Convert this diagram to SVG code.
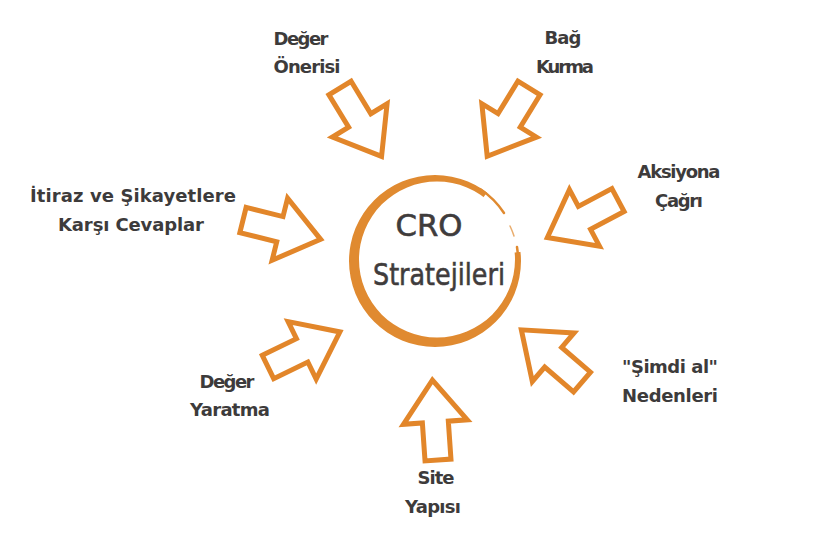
<svg xmlns="http://www.w3.org/2000/svg" width="821" height="553" viewBox="0 0 821 553">
  <style>
    .lbl { font-family: "DejaVu Sans", "Liberation Sans", sans-serif; font-weight: bold; font-size: 18px; fill: #3d3b3b; text-anchor: middle; }
    .ctr { font-family: "DejaVu Sans", "Liberation Sans", sans-serif; font-size: 30px; fill: #3f3c3c; stroke: #3f3c3c; stroke-width: 0.6; text-anchor: middle; }
    .arr { fill: #ffffff; stroke: #e2862a; stroke-width: 5; stroke-linejoin: miter; }
    .ring { fill: #e08a30; fill-rule: evenodd; }
    .thin { fill: none; stroke: #e08a30; stroke-linecap: round; }
  </style>
  <defs>
    <path id="arrow" d="M0,-13 L38,-13 L38,-32 L80,0 L38,32 L38,13 L0,13 Z"/>
    <clipPath id="gap">
      <polygon points="435,261 640,239 640,470 225,470 225,40 603,40"/>
    </clipPath>
  </defs>
  <rect width="821" height="553" fill="#ffffff"/>

  <g id="connectors">
    <use href="#arrow" class="arr" transform="translate(340,88) rotate(58.7)"/>
    <use href="#arrow" class="arr" transform="translate(529,88) rotate(121.5)"/>
    <use href="#arrow" class="arr" transform="translate(243,220) rotate(14)"/>
    <use href="#arrow" class="arr" transform="translate(618,200) rotate(152)"/>
    <use href="#arrow" class="arr" transform="translate(582,382) rotate(220.7)"/>
    <use href="#arrow" class="arr" transform="translate(438,460) rotate(-94)"/>
    <use href="#arrow" class="arr" transform="translate(268,367) rotate(-26)"/>
  </g>

  <g id="center">
    <path class="ring" clip-path="url(#gap)" d="M521,261 A86,86 0 1 0 349,261 A86,86 0 1 0 521,261 Z M515,259.5 A78,78 0 1 0 359,259.5 A78,78 0 1 0 515,259.5 Z"/>
    <path class="thin" stroke-width="2.5" d="M480,189 A83,83 0 0 1 504,213"/>
    <path class="thin" stroke-width="1.5" opacity="0.7" d="M510,226 A83,83 0 0 1 514,236"/>
    <path class="thin" stroke-width="2.5" d="M517,247 A83,83 0 0 1 518,262"/>
    <text class="ctr" x="429" y="236" textLength="67" lengthAdjust="spacingAndGlyphs">CRO</text>
    <text class="ctr" x="439" y="285" textLength="132" lengthAdjust="spacingAndGlyphs">Stratejileri</text>
  </g>

  <g id="deger-onerisi">
    <text class="lbl" x="301" y="45" textLength="55">Değer</text>
    <text class="lbl" x="307" y="73" textLength="67">Önerisi</text>
  </g>
  <g id="bag-kurma">
    <text class="lbl" x="563" y="44" textLength="37">Bağ</text>
    <text class="lbl" x="565" y="73" textLength="58">Kurma</text>
  </g>
  <g id="itiraz">
    <text class="lbl" x="133" y="202" textLength="206">İtiraz ve Şikayetlere</text>
    <text class="lbl" x="131" y="231" textLength="146">Karşı Cevaplar</text>
  </g>
  <g id="aksiyona">
    <text class="lbl" x="679" y="178" textLength="83">Aksiyona</text>
    <text class="lbl" x="679" y="207" textLength="48">Çağrı</text>
  </g>
  <g id="simdi-al">
    <text class="lbl" x="670" y="373" textLength="96">"Şimdi al"</text>
    <text class="lbl" x="670" y="402" textLength="96">Nedenleri</text>
  </g>
  <g id="deger-yaratma">
    <text class="lbl" x="227" y="388" textLength="55">Değer</text>
    <text class="lbl" x="230" y="416" textLength="80">Yaratma</text>
  </g>
  <g id="site-yapisi">
    <text class="lbl" x="436" y="484" textLength="37">Site</text>
    <text class="lbl" x="433" y="513" textLength="56">Yapısı</text>
  </g>
</svg>
